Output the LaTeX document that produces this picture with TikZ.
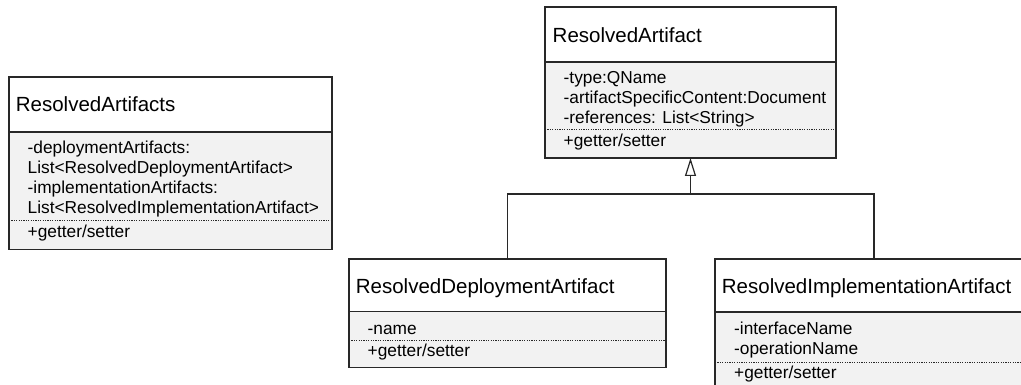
\documentclass[tikz,border=0pt]{standalone}
\usepackage{fontspec}
\setmainfont{Liberation Sans}
\usetikzlibrary{arrows.meta}
\definecolor{umlgrey}{RGB}{242,242,242}
\definecolor{umlline}{RGB}{40,40,40}
\tikzset{
  umlhead/.style={draw=umlline, line width=1.2pt, fill=white, anchor=north west,
    inner sep=0pt, outer sep=0pt},
  umlbody/.style={draw=umlline, line width=1.2pt, fill=umlgrey, anchor=north west,
    inner sep=0pt, outer sep=0pt},
  classname/.style={anchor=base west, inner sep=0pt, text=black,
    font=\fontsize{20.5}{24}\selectfont},
  member/.style={anchor=base west, inner sep=0pt, text=black,
    font=\fontsize{17.3}{20}\selectfont},
  sepline/.style={draw=umlline, line width=1pt, dash pattern=on 1.2pt off 1.2pt},
  inherit/.style={draw=umlline, line width=1.2pt},
  gentip/.style={-{Triangle[open, length=18pt, width=11pt, fill=white]}},
}
\begin{document}
\begin{tikzpicture}[x=1pt, y=-1pt]
  \path[use as bounding box, clip] (0,0) rectangle (1021,385);

  % ResolvedArtifacts
  \node[umlhead, minimum width=323pt, minimum height=55pt] (ras-h) at (9,77) {};
  \node[umlbody, minimum width=323pt, minimum height=117.5pt] (ras-b) at (9,132) {};
  \node[classname] (ras-n) at (15.7,112) {ResolvedArtifacts};
  \node[member] (ras-m1) at (27.5,154) {-deploymentArtifacts:};
  \node[member] (ras-m2) at (27.5,173.8) {List<ResolvedDeploymentArtifact>};
  \node[member] (ras-m3) at (27.5,193.6) {-implementationArtifacts:};
  \node[member] (ras-m4) at (27.5,213.4) {List<ResolvedImplementationArtifact>};
  \draw[sepline] (ras-b.west |- 0,221) -- (ras-b.east |- 0,221);
  \node[member] (ras-o1) at (27.5,237.3) {+getter/setter};

  % ResolvedArtifact
  \node[umlhead, minimum width=291pt, minimum height=55pt] (ra-h) at (545,7) {};
  \node[umlbody, minimum width=291pt, minimum height=96pt] (ra-b) at (545,62) {};
  \node[classname] (ra-n) at (552.5,42.5) {ResolvedArtifact};
  \node[member] (ra-m1) at (563.5,84) {-type:QName};
  \node[member] (ra-m2) at (563.5,103.8) {-artifactSpecificContent:Document};
  \node[member] (ra-m3) at (563.5,123.6) {-references: List<String>};
  \draw[sepline] (ra-b.west |- 0,130) -- (ra-b.east |- 0,130);
  \node[member] (ra-o1) at (563.5,146.3) {+getter/setter};

  % ResolvedDeploymentArtifact
  \node[umlhead, minimum width=317pt, minimum height=52.5pt] (dep-h) at (349,259) {};
  \node[umlbody, minimum width=317pt, minimum height=56pt] (dep-b) at (349,311.5) {};
  \node[classname] (dep-n) at (355.7,293) {ResolvedDeploymentArtifact};
  \node[member] (dep-m1) at (367.5,334) {-name};
  \draw[sepline] (dep-b.west |- 0,340) -- (dep-b.east |- 0,340);
  \node[member] (dep-o1) at (367.5,356) {+getter/setter};

  % ResolvedImplementationArtifact
  \node[umlhead, minimum width=318pt, minimum height=53pt] (imp-h) at (715,259) {};
  \node[umlbody, minimum width=318pt, minimum height=80pt] (imp-b) at (715,312) {};
  \node[classname] (imp-n) at (721.7,293) {ResolvedImplementationArtifact};
  \node[member] (imp-m1) at (734,334.5) {-interfaceName};
  \node[member] (imp-m2) at (734,354.3) {-operationName};
  \draw[sepline] (imp-b.west |- 0,362) -- (imp-b.east |- 0,362);
  \node[member] (imp-o1) at (734,378.5) {+getter/setter};

  % generalisation
  \coordinate (fork) at (ra-b.south |- 0,194);
  \draw[inherit] (dep-h.north) |- (fork) -| (imp-h.north);
  \draw[inherit, gentip] (fork) -- (ra-b.south);
\end{tikzpicture}
\end{document}
